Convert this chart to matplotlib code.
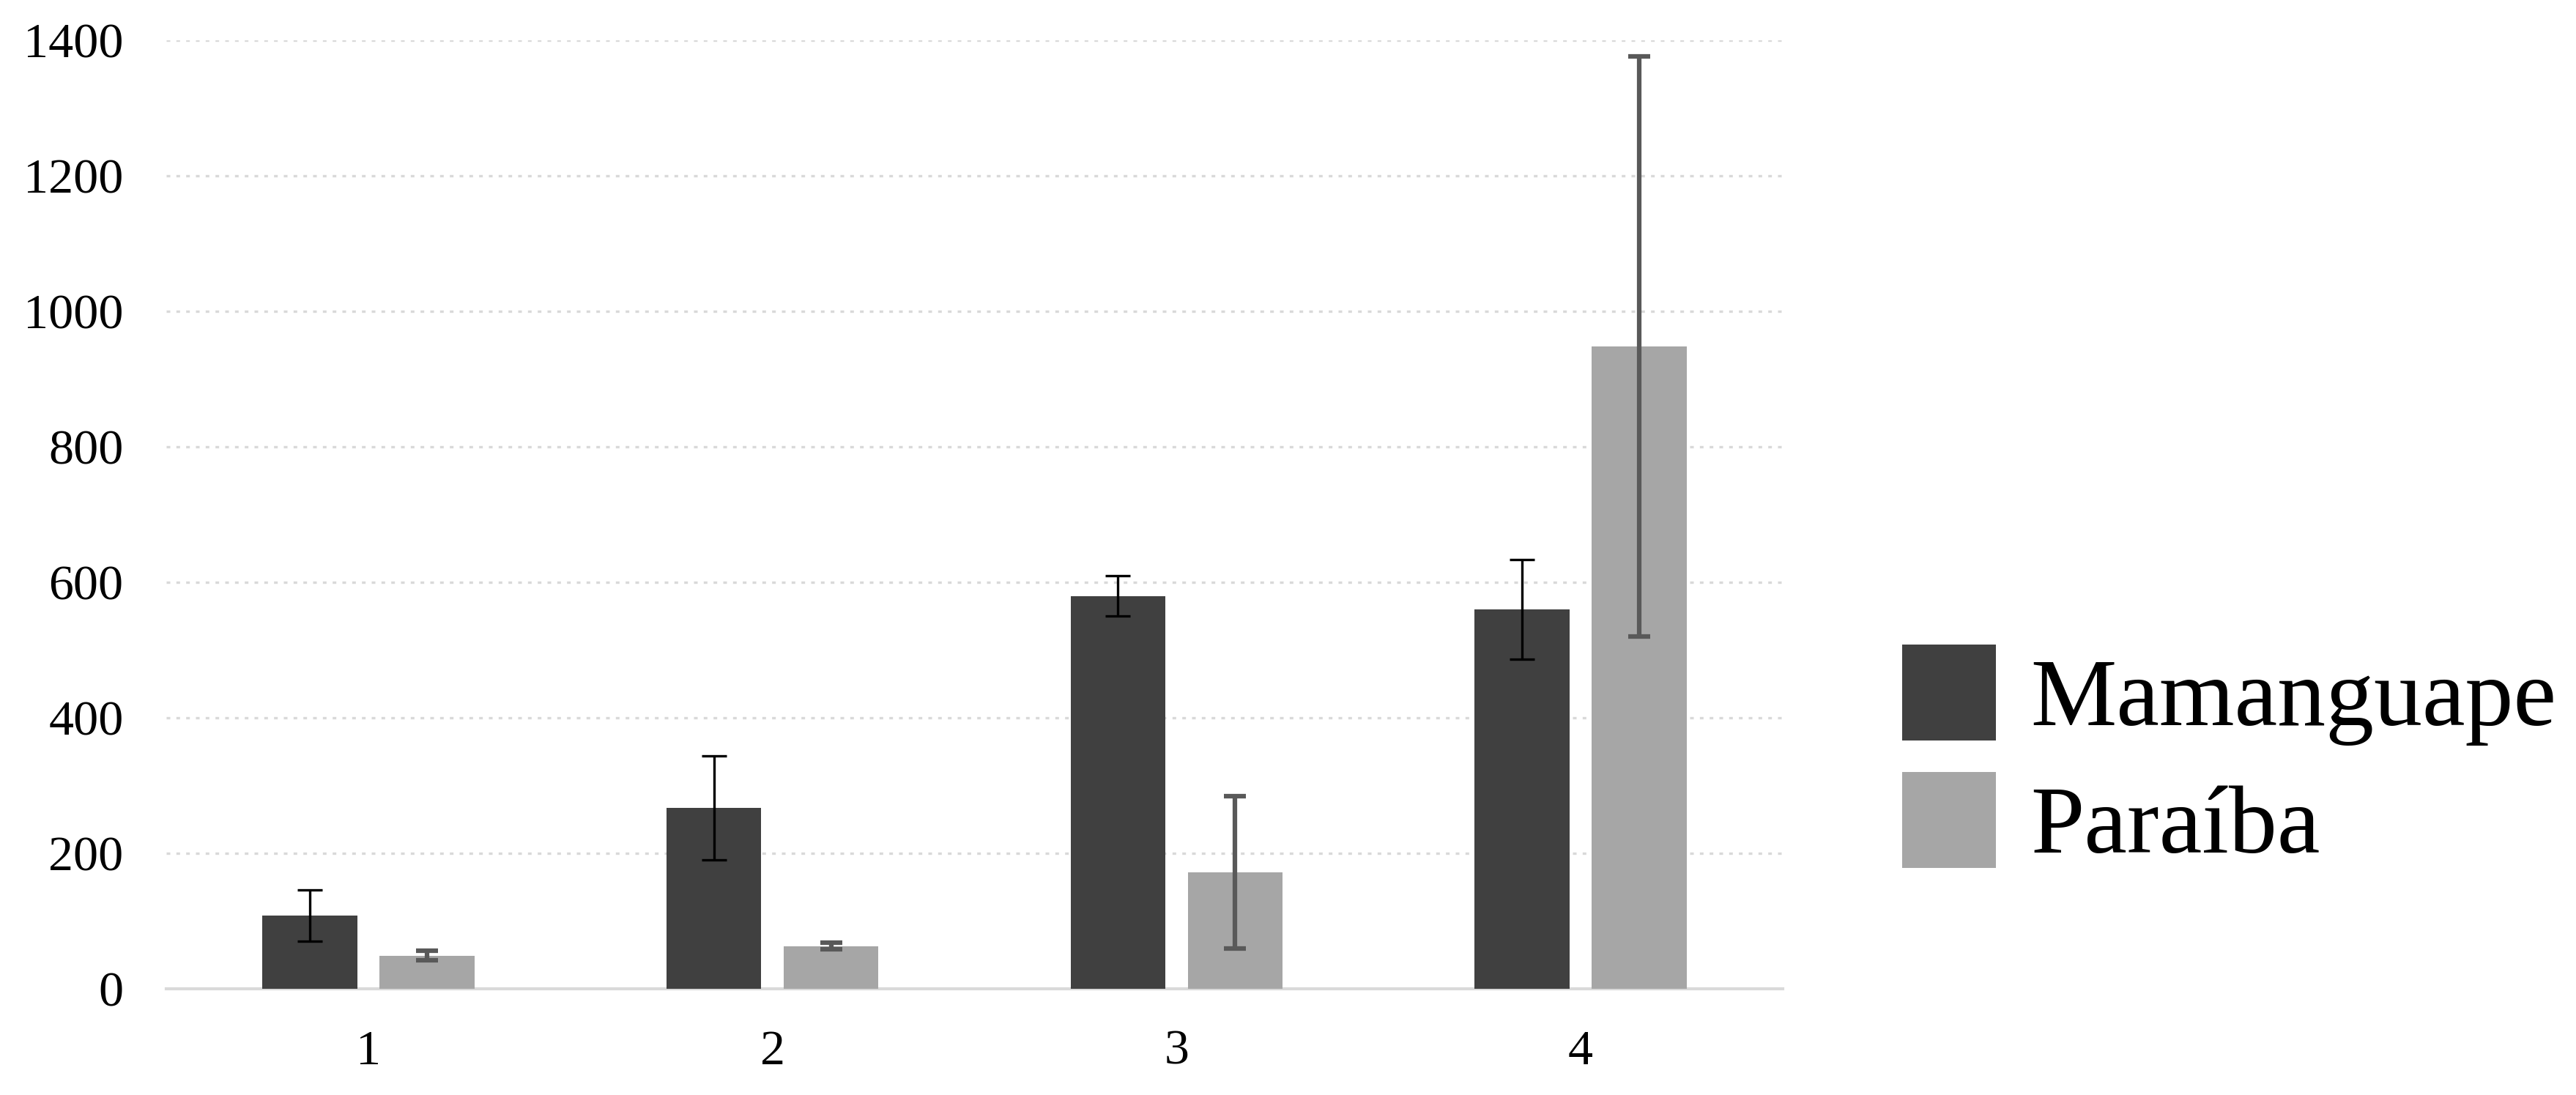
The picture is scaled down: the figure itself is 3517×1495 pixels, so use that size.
import matplotlib
matplotlib.use("Agg")
import matplotlib.pyplot as plt
import numpy as np

categories = ["1", "2", "3", "4"]
series_names = ["Mamanguape", "Paraíba"]
mamanguape = [108, 267, 580, 560]
mamanguape_err = [38, 77, 30, 73]
paraiba = [49, 63, 172, 948]
paraiba_err = [7, 5, 112, 428]
yticks = [0, 200, 400, 600, 800, 1000, 1200, 1400]

plt.rcParams['font.family'] = ['Liberation Serif', 'DejaVu Serif']

W, H, DPI = 3517, 1495, 100
fig = plt.figure(figsize=(W / DPI, H / DPI), dpi=DPI)
ax = fig.add_axes([227 / W, 145 / H, (2434 - 227) / W, (1440 - 145) / H])

x = np.arange(1, len(categories) + 1)
bw = 0.235
off = 0.145

ax.set_axisbelow(True)
ax.yaxis.grid(True, color='#d9d9d9', linewidth=2.4, linestyle=(0, (1.5, 2.5)))
ax.xaxis.grid(False)

ax.bar(x - off, mamanguape, bw, color='#404040', zorder=2, label=series_names[0])
ax.bar(x + off, paraiba, bw, color='#a6a6a6', zorder=2, label=series_names[1])
ax.errorbar(x - off, mamanguape, yerr=mamanguape_err, fmt='none', ecolor='black',
            elinewidth=2.4, capsize=12, capthick=2.4, zorder=3)
ax.errorbar(x + off, paraiba, yerr=paraiba_err, fmt='none', ecolor='#595959',
            elinewidth=4.5, capsize=11, capthick=4.5, zorder=3)

ax.set_xlim(0.5, 4.5)
ax.set_ylim(0, 1400)
ax.set_xticks(x)
ax.set_xticklabels(categories)
ax.set_yticks(yticks)
ax.set_yticklabels([str(v) for v in yticks])
ax.tick_params(axis='both', length=0, labelsize=49, colors='black')
ax.tick_params(axis='y', pad=42)
ax.tick_params(axis='x', pad=40)

for s in ['top', 'right', 'left']:
    ax.spines[s].set_visible(False)
ax.spines['bottom'].set_color('#d9d9d9')
ax.spines['bottom'].set_linewidth(3)
ax.spines['bottom'].set_zorder(1)

leg = ax.legend(loc='center left', bbox_to_anchor=(2597 / W, (1495 - 1036) / H),
                bbox_transform=fig.transFigure, frameon=False, fontsize=95,
                handlelength=0.97, handleheight=1.15, handletextpad=0.36,
                labelspacing=0.27, borderaxespad=0, borderpad=0)

fig.savefig('out.png', dpi=DPI, facecolor='white')
